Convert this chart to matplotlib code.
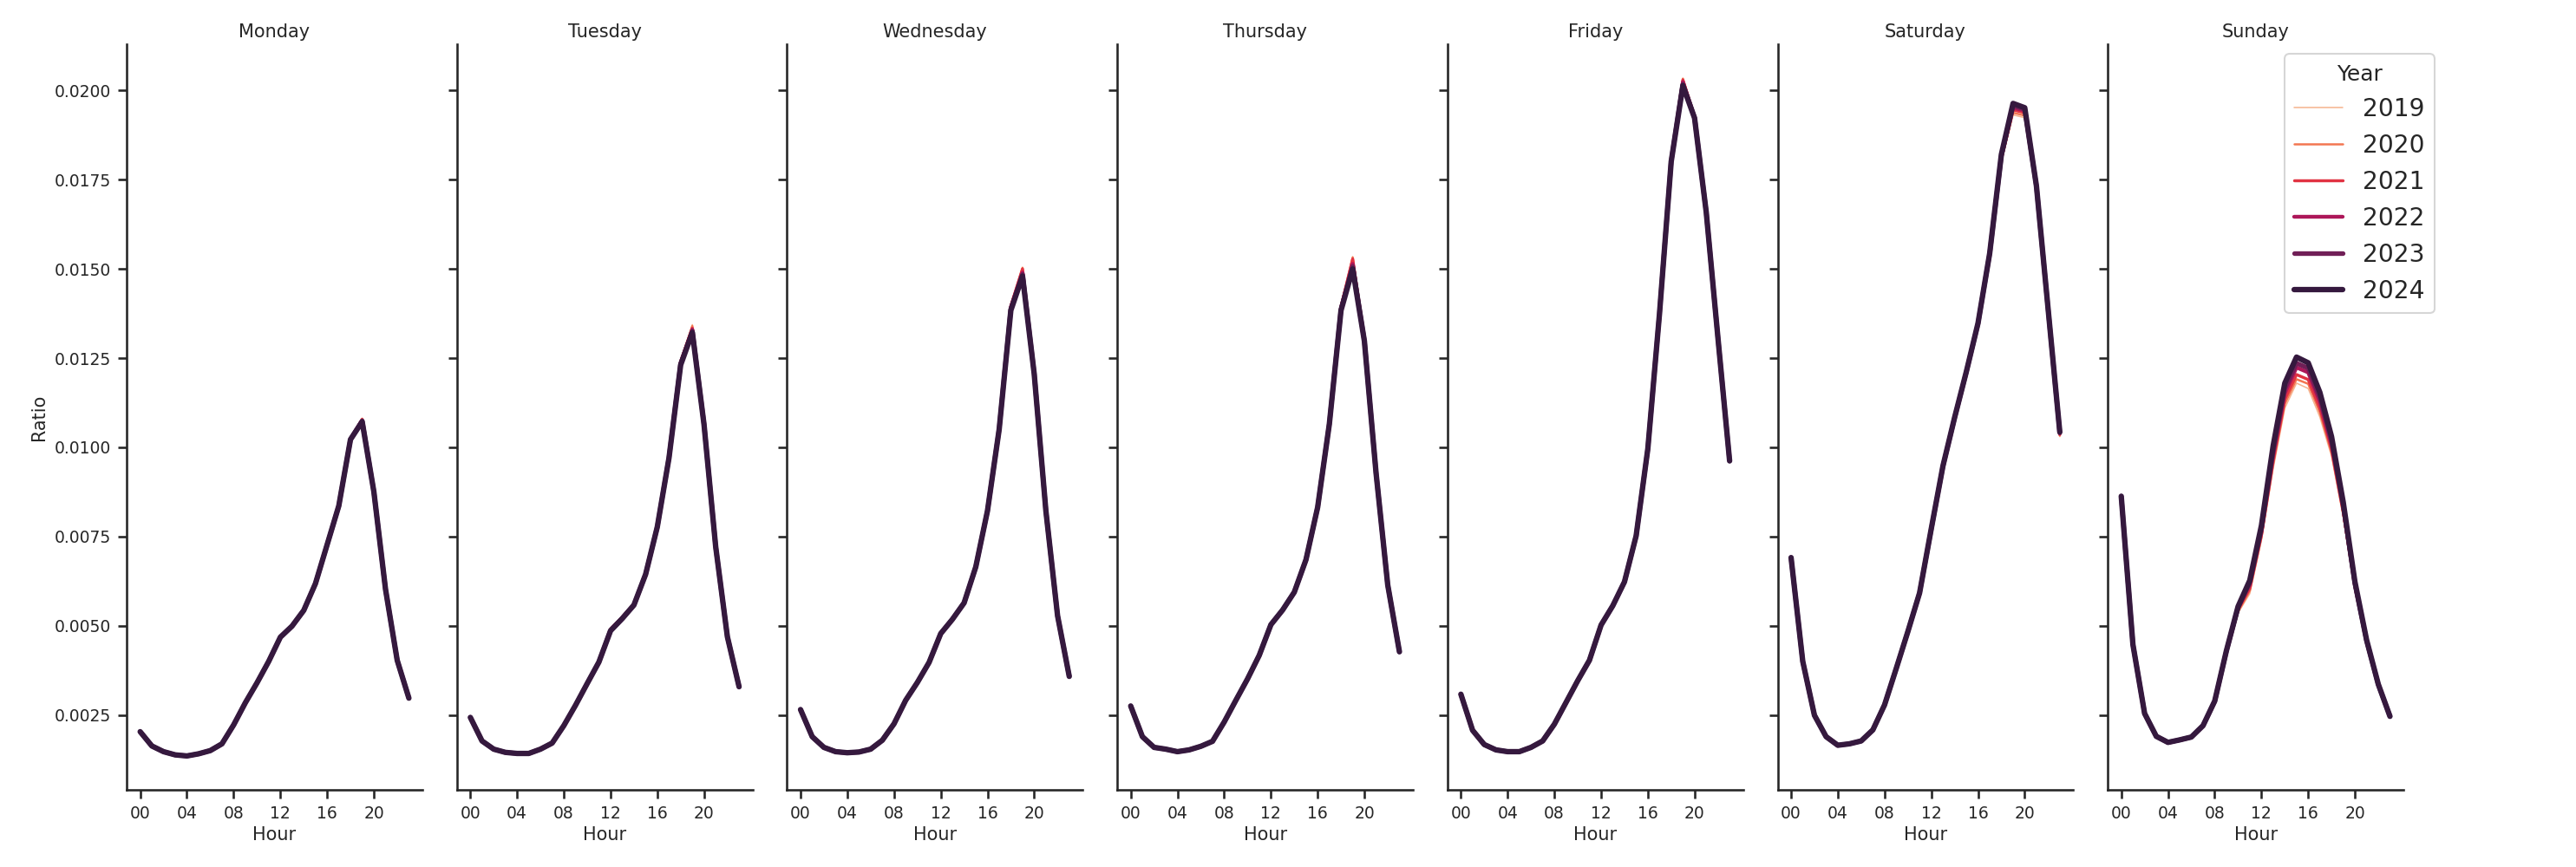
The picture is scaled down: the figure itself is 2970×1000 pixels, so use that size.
import matplotlib.pyplot as plt
import seaborn as sns

sns.set_theme(style="ticks")
plt.rcParams['font.family'] = ['DejaVu Sans']

years = [2019, 2020, 2021, 2022, 2023, 2024]
days = ["Monday", "Tuesday", "Wednesday", "Thursday", "Friday", "Saturday", "Sunday"]
hours = list(range(24))
hour_ticks = [0, 4, 8, 12, 16, 20]
hour_labels = ["00", "04", "08", "12", "16", "20"]

# ratio per hour, one row per year (2019 .. 2024)
monday = [
    [0.00203, 0.00163, 0.00147, 0.00138, 0.00135, 0.00141, 0.00150, 0.00169, 0.00222, 0.00284, 0.00340, 0.00400, 0.00468, 0.00499, 0.00543, 0.00618, 0.00727, 0.00836, 0.01026, 0.01082, 0.00878, 0.00602, 0.00403, 0.00297],
    [0.00203, 0.00163, 0.00147, 0.00138, 0.00135, 0.00141, 0.00150, 0.00169, 0.00222, 0.00284, 0.00340, 0.00400, 0.00468, 0.00499, 0.00543, 0.00618, 0.00727, 0.00836, 0.01025, 0.01080, 0.00878, 0.00602, 0.00403, 0.00297],
    [0.00203, 0.00163, 0.00147, 0.00138, 0.00135, 0.00141, 0.00150, 0.00169, 0.00222, 0.00284, 0.00340, 0.00400, 0.00468, 0.00499, 0.00543, 0.00618, 0.00727, 0.00836, 0.01024, 0.01078, 0.00877, 0.00602, 0.00403, 0.00297],
    [0.00203, 0.00163, 0.00147, 0.00138, 0.00135, 0.00141, 0.00150, 0.00169, 0.00222, 0.00284, 0.00340, 0.00400, 0.00468, 0.00499, 0.00543, 0.00618, 0.00727, 0.00836, 0.01023, 0.01076, 0.00877, 0.00602, 0.00403, 0.00297],
    [0.00203, 0.00163, 0.00147, 0.00138, 0.00135, 0.00141, 0.00150, 0.00169, 0.00222, 0.00284, 0.00340, 0.00400, 0.00468, 0.00499, 0.00543, 0.00618, 0.00727, 0.00836, 0.01022, 0.01074, 0.00876, 0.00602, 0.00403, 0.00297],
    [0.00203, 0.00163, 0.00147, 0.00138, 0.00135, 0.00141, 0.00150, 0.00169, 0.00222, 0.00284, 0.00340, 0.00400, 0.00468, 0.00499, 0.00543, 0.00618, 0.00727, 0.00836, 0.01022, 0.01072, 0.00876, 0.00602, 0.00403, 0.00297],
]
tuesday = [
    [0.00243, 0.00177, 0.00154, 0.00145, 0.00142, 0.00142, 0.00154, 0.00171, 0.00220, 0.00277, 0.00338, 0.00398, 0.00492, 0.00526, 0.00561, 0.00646, 0.00779, 0.00975, 0.01245, 0.01344, 0.01070, 0.00721, 0.00469, 0.00329],
    [0.00243, 0.00177, 0.00154, 0.00145, 0.00142, 0.00142, 0.00154, 0.00171, 0.00220, 0.00277, 0.00338, 0.00398, 0.00491, 0.00525, 0.00560, 0.00646, 0.00778, 0.00974, 0.01242, 0.01340, 0.01069, 0.00721, 0.00469, 0.00329],
    [0.00243, 0.00177, 0.00154, 0.00145, 0.00142, 0.00142, 0.00154, 0.00171, 0.00220, 0.00277, 0.00338, 0.00398, 0.00490, 0.00524, 0.00560, 0.00645, 0.00778, 0.00973, 0.01240, 0.01334, 0.01068, 0.00721, 0.00469, 0.00329],
    [0.00243, 0.00177, 0.00154, 0.00145, 0.00142, 0.00142, 0.00154, 0.00171, 0.00220, 0.00277, 0.00338, 0.00398, 0.00488, 0.00522, 0.00559, 0.00645, 0.00777, 0.00972, 0.01237, 0.01330, 0.01066, 0.00721, 0.00469, 0.00329],
    [0.00243, 0.00177, 0.00154, 0.00145, 0.00142, 0.00142, 0.00154, 0.00171, 0.00220, 0.00277, 0.00338, 0.00398, 0.00487, 0.00521, 0.00558, 0.00644, 0.00777, 0.00971, 0.01234, 0.01326, 0.01065, 0.00721, 0.00469, 0.00329],
    [0.00243, 0.00177, 0.00154, 0.00145, 0.00142, 0.00142, 0.00154, 0.00171, 0.00220, 0.00277, 0.00338, 0.00398, 0.00486, 0.00520, 0.00558, 0.00644, 0.00777, 0.00970, 0.01231, 0.01322, 0.01064, 0.00721, 0.00469, 0.00329],
]
wednesday = [
    [0.00265, 0.00189, 0.00159, 0.00147, 0.00144, 0.00146, 0.00154, 0.00179, 0.00225, 0.00291, 0.00341, 0.00397, 0.00480, 0.00520, 0.00566, 0.00667, 0.00825, 0.01055, 0.01400, 0.01505, 0.01212, 0.00824, 0.00528, 0.00358],
    [0.00265, 0.00189, 0.00159, 0.00147, 0.00144, 0.00146, 0.00154, 0.00179, 0.00225, 0.00291, 0.00341, 0.00397, 0.00480, 0.00520, 0.00566, 0.00667, 0.00824, 0.01054, 0.01398, 0.01503, 0.01211, 0.00824, 0.00528, 0.00358],
    [0.00265, 0.00189, 0.00159, 0.00147, 0.00144, 0.00146, 0.00154, 0.00179, 0.00225, 0.00291, 0.00341, 0.00397, 0.00479, 0.00519, 0.00565, 0.00666, 0.00824, 0.01053, 0.01396, 0.01500, 0.01210, 0.00823, 0.00528, 0.00358],
    [0.00265, 0.00189, 0.00159, 0.00147, 0.00144, 0.00146, 0.00154, 0.00179, 0.00225, 0.00291, 0.00341, 0.00397, 0.00479, 0.00519, 0.00565, 0.00666, 0.00823, 0.01052, 0.01392, 0.01490, 0.01208, 0.00823, 0.00528, 0.00358],
    [0.00265, 0.00189, 0.00159, 0.00147, 0.00144, 0.00146, 0.00154, 0.00179, 0.00225, 0.00291, 0.00341, 0.00397, 0.00478, 0.00518, 0.00564, 0.00665, 0.00822, 0.01051, 0.01388, 0.01485, 0.01207, 0.00822, 0.00528, 0.00358],
    [0.00265, 0.00189, 0.00159, 0.00147, 0.00144, 0.00146, 0.00154, 0.00179, 0.00225, 0.00291, 0.00341, 0.00397, 0.00478, 0.00518, 0.00564, 0.00665, 0.00822, 0.01050, 0.01384, 0.01480, 0.01206, 0.00822, 0.00528, 0.00358],
]
thursday = [
    [0.00275, 0.00189, 0.00159, 0.00154, 0.00147, 0.00152, 0.00162, 0.00176, 0.00230, 0.00291, 0.00351, 0.00417, 0.00506, 0.00547, 0.00597, 0.00688, 0.00836, 0.01070, 0.01400, 0.01535, 0.01305, 0.00932, 0.00614, 0.00427],
    [0.00275, 0.00189, 0.00159, 0.00154, 0.00147, 0.00152, 0.00162, 0.00176, 0.00230, 0.00291, 0.00351, 0.00417, 0.00506, 0.00547, 0.00597, 0.00688, 0.00835, 0.01069, 0.01397, 0.01532, 0.01304, 0.00931, 0.00614, 0.00427],
    [0.00275, 0.00189, 0.00159, 0.00154, 0.00147, 0.00152, 0.00162, 0.00176, 0.00230, 0.00291, 0.00351, 0.00417, 0.00505, 0.00546, 0.00596, 0.00687, 0.00834, 0.01068, 0.01394, 0.01528, 0.01303, 0.00930, 0.00614, 0.00427],
    [0.00275, 0.00189, 0.00159, 0.00154, 0.00147, 0.00152, 0.00162, 0.00176, 0.00230, 0.00291, 0.00351, 0.00417, 0.00504, 0.00545, 0.00595, 0.00686, 0.00833, 0.01067, 0.01390, 0.01514, 0.01301, 0.00929, 0.00614, 0.00427],
    [0.00275, 0.00189, 0.00159, 0.00154, 0.00147, 0.00152, 0.00162, 0.00176, 0.00230, 0.00291, 0.00351, 0.00417, 0.00503, 0.00544, 0.00594, 0.00685, 0.00832, 0.01066, 0.01387, 0.01507, 0.01299, 0.00928, 0.00614, 0.00427],
    [0.00275, 0.00189, 0.00159, 0.00154, 0.00147, 0.00152, 0.00162, 0.00176, 0.00230, 0.00291, 0.00351, 0.00417, 0.00503, 0.00544, 0.00594, 0.00685, 0.00832, 0.01065, 0.01384, 0.01500, 0.01298, 0.00928, 0.00614, 0.00427],
]
friday = [
    [0.00308, 0.00207, 0.00167, 0.00152, 0.00147, 0.00147, 0.00159, 0.00177, 0.00224, 0.00285, 0.00346, 0.00403, 0.00502, 0.00556, 0.00623, 0.00752, 0.00998, 0.01380, 0.01808, 0.02035, 0.01930, 0.01662, 0.01307, 0.00962],
    [0.00308, 0.00207, 0.00167, 0.00152, 0.00147, 0.00147, 0.00159, 0.00177, 0.00224, 0.00285, 0.00346, 0.00403, 0.00502, 0.00556, 0.00623, 0.00752, 0.00998, 0.01379, 0.01807, 0.02033, 0.01929, 0.01661, 0.01307, 0.00962],
    [0.00308, 0.00207, 0.00167, 0.00152, 0.00147, 0.00147, 0.00159, 0.00177, 0.00224, 0.00285, 0.00346, 0.00403, 0.00502, 0.00556, 0.00623, 0.00752, 0.00997, 0.01378, 0.01805, 0.02030, 0.01927, 0.01661, 0.01307, 0.00962],
    [0.00308, 0.00207, 0.00167, 0.00152, 0.00147, 0.00147, 0.00159, 0.00177, 0.00224, 0.00285, 0.00346, 0.00403, 0.00502, 0.00556, 0.00623, 0.00752, 0.00997, 0.01377, 0.01803, 0.02024, 0.01925, 0.01660, 0.01307, 0.00962],
    [0.00308, 0.00207, 0.00167, 0.00152, 0.00147, 0.00147, 0.00159, 0.00177, 0.00224, 0.00285, 0.00346, 0.00403, 0.00502, 0.00556, 0.00623, 0.00752, 0.00996, 0.01376, 0.01802, 0.02018, 0.01924, 0.01659, 0.01307, 0.00962],
    [0.00308, 0.00207, 0.00167, 0.00152, 0.00147, 0.00147, 0.00159, 0.00177, 0.00224, 0.00285, 0.00346, 0.00403, 0.00502, 0.00556, 0.00623, 0.00752, 0.00996, 0.01375, 0.01801, 0.02014, 0.01923, 0.01659, 0.01307, 0.00962],
]
saturday = [
    [0.00691, 0.00400, 0.00249, 0.00189, 0.00165, 0.00169, 0.00177, 0.00208, 0.00278, 0.00378, 0.00480, 0.00588, 0.00766, 0.00940, 0.01076, 0.01204, 0.01340, 0.01535, 0.01800, 0.01932, 0.01924, 0.01722, 0.01380, 0.01030],
    [0.00691, 0.00400, 0.00249, 0.00189, 0.00165, 0.00169, 0.00177, 0.00208, 0.00278, 0.00379, 0.00481, 0.00589, 0.00768, 0.00942, 0.01078, 0.01206, 0.01342, 0.01537, 0.01805, 0.01938, 0.01930, 0.01725, 0.01382, 0.01033],
    [0.00691, 0.00400, 0.00249, 0.00189, 0.00165, 0.00169, 0.00177, 0.00208, 0.00278, 0.00379, 0.00482, 0.00590, 0.00769, 0.00944, 0.01080, 0.01208, 0.01344, 0.01539, 0.01810, 0.01946, 0.01938, 0.01728, 0.01384, 0.01036],
    [0.00691, 0.00400, 0.00249, 0.00189, 0.00165, 0.00169, 0.00177, 0.00208, 0.00278, 0.00380, 0.00483, 0.00591, 0.00770, 0.00946, 0.01082, 0.01210, 0.01346, 0.01541, 0.01815, 0.01952, 0.01944, 0.01730, 0.01386, 0.01039],
    [0.00691, 0.00400, 0.00249, 0.00189, 0.00165, 0.00169, 0.00177, 0.00208, 0.00278, 0.00380, 0.00484, 0.00592, 0.00771, 0.00947, 0.01083, 0.01211, 0.01347, 0.01543, 0.01818, 0.01958, 0.01948, 0.01732, 0.01387, 0.01041],
    [0.00691, 0.00400, 0.00249, 0.00189, 0.00165, 0.00169, 0.00177, 0.00208, 0.00278, 0.00380, 0.00484, 0.00592, 0.00772, 0.00948, 0.01084, 0.01212, 0.01348, 0.01544, 0.01821, 0.01964, 0.01952, 0.01733, 0.01388, 0.01043],
]
sunday = [
    [0.00863, 0.00447, 0.00250, 0.00186, 0.00170, 0.00177, 0.00185, 0.00216, 0.00282, 0.00418, 0.00536, 0.00590, 0.00740, 0.00940, 0.01110, 0.01180, 0.01165, 0.01085, 0.00975, 0.00805, 0.00600, 0.00448, 0.00330, 0.00242],
    [0.00863, 0.00447, 0.00251, 0.00187, 0.00171, 0.00178, 0.00186, 0.00217, 0.00284, 0.00421, 0.00540, 0.00598, 0.00748, 0.00952, 0.01122, 0.01191, 0.01178, 0.01098, 0.00985, 0.00812, 0.00605, 0.00451, 0.00331, 0.00243],
    [0.00863, 0.00447, 0.00252, 0.00188, 0.00172, 0.00179, 0.00187, 0.00218, 0.00286, 0.00424, 0.00545, 0.00605, 0.00755, 0.00962, 0.01135, 0.01204, 0.01190, 0.01110, 0.00995, 0.00820, 0.00610, 0.00454, 0.00333, 0.00244],
    [0.00863, 0.00447, 0.00253, 0.00189, 0.00172, 0.00179, 0.00187, 0.00219, 0.00287, 0.00427, 0.00549, 0.00615, 0.00765, 0.00978, 0.01152, 0.01224, 0.01210, 0.01128, 0.01008, 0.00830, 0.00615, 0.00456, 0.00334, 0.00245],
    [0.00863, 0.00447, 0.00254, 0.00190, 0.00173, 0.00180, 0.00188, 0.00220, 0.00288, 0.00429, 0.00552, 0.00622, 0.00772, 0.00990, 0.01165, 0.01236, 0.01222, 0.01140, 0.01018, 0.00838, 0.00619, 0.00458, 0.00335, 0.00246],
    [0.00863, 0.00447, 0.00254, 0.00190, 0.00173, 0.00180, 0.00188, 0.00220, 0.00289, 0.00430, 0.00554, 0.00627, 0.00781, 0.01004, 0.01180, 0.01253, 0.01237, 0.01154, 0.01030, 0.00846, 0.00623, 0.00460, 0.00336, 0.00246],
]

day_data = [monday, tuesday, wednesday, thursday, friday, saturday, sunday]
colors = sns.color_palette("rocket_r", len(years))
widths = [0.75, 1.2, 1.65, 2.1, 2.55, 3.0]

fig, axes = plt.subplots(1, 7, figsize=(19.8, 6.6667), sharey=True)
plt.subplots_adjust(left=0.0492, right=0.933, top=0.949, bottom=0.089, wspace=0.117)

for ax, day, data in zip(axes, days, day_data):
    for i, year in enumerate(years):
        ax.plot(hours, data[i], color=colors[i], lw=widths[i], label=str(year),
                solid_capstyle="round", solid_joinstyle="round")
    ax.set_title(day, fontsize=10, pad=4)
    ax.set_xticks(hour_ticks)
    ax.set_xticklabels(hour_labels)
    ax.set_xlabel("Hour", fontsize=10, labelpad=2.5)
    ax.tick_params(axis="both", labelsize=9, length=5, width=1.25)
    ax.tick_params(axis="y", labelleft=(ax is axes[0]))
    for s in ["left", "bottom"]:
        ax.spines[s].set_linewidth(1.25)
    sns.despine(ax=ax)

axes[0].set_ylabel("Ratio", fontsize=10)
axes[0].yaxis.set_major_formatter(plt.FormatStrFormatter("%.4f"))

handles, labels = axes[-1].get_legend_handles_labels()
fig.legend(handles, labels, title="Year", loc="upper right",
           bbox_to_anchor=(0.945, 0.9375), borderaxespad=0,
           fontsize=13.5, title_fontsize=12)

plt.savefig("out.png", dpi=150)
